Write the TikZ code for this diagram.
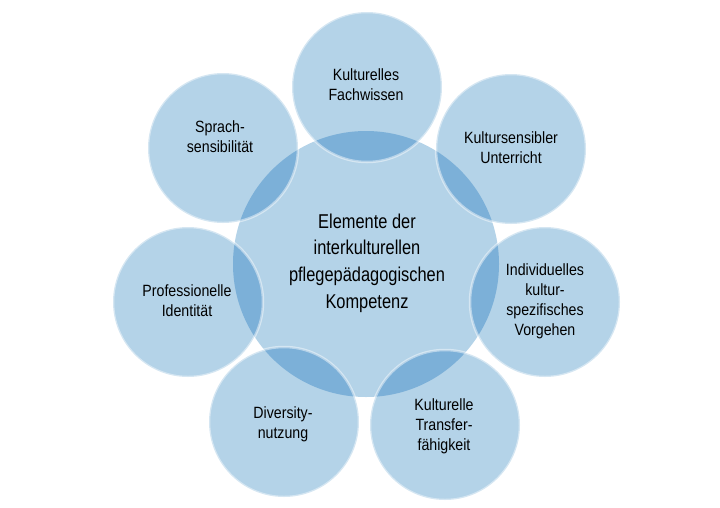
\documentclass[tikz,border=0pt]{standalone}
\usepackage{fontspec}
\setmainfont{Liberation Sans}[FakeStretch=0.87]
\newfontfamily\centrefont{Liberation Sans}[FakeStretch=0.82]
\definecolor{lightblue}{RGB}{180,211,232}
\definecolor{darkblue}{RGB}{124,176,216}
\begin{document}
\begin{tikzpicture}[x=1pt,y=-1pt,
  outer/.style={circle,fill=lightblue,minimum size=150pt,inner sep=0pt},
  centre/.style={circle,fill=lightblue,minimum size=266pt,inner sep=0pt},
  lbl/.style={align=center,text=black,font=\fontsize{16.3}{20}\selectfont},
  clbl/.style={align=center,text=black,font=\centrefont\fontsize{20}{26.7}\selectfont},
  rim/.style={draw=white,draw opacity=0.45,line width=2.5pt}]
\path[use as bounding box] (0,0) rectangle (720,507);
% circles
\node[centre] (c) at (366,264) {};
\node[outer] (a1) at (367,87) {};
\node[outer] (a2) at (511,149) {};
\node[outer] (a3) at (545,302) {};
\node[outer] (a4) at (445,425) {};
\node[outer] (a5) at (284,422) {};
\node[outer] (a6) at (188,302) {};
\node[outer] (a7) at (223,148) {};
% overlaps
\begin{scope}
  \clip (c.center) circle[radius=133pt];
  \foreach \n in {a1,a2,a3,a4,a5,a6,a7}
    \fill[darkblue] (\n.center) circle[radius=75pt];
\end{scope}
% rims of the outer circles
\foreach \n in {a1,a2,a3,a4,a5,a6,a7}
  \draw[rim] (\n.center) circle[radius=75pt];
% texts
\node[clbl] (tc) at (367,263) {Elemente der\\interkulturellen\\pflegepädagogischen\\Kompetenz};
\node[lbl] (t1) at (366,85) {Kulturelles\\Fachwissen};
\node[lbl] (t2) at (511,148) {Kultursensibler\\Unterricht};
\node[lbl] (t3) at (545,301) {Individuelles\\kultur-\\spezifisches\\Vorgehen};
\node[lbl] (t4) at (444,426) {Kulturelle\\Transfer-\\fähigkeit};
\node[lbl] (t5) at (283,424) {Diversity-\\nutzung};
\node[lbl] (t6) at (187,301) {Professionelle\\Identität};
\node[lbl] (t7) at (220,137) {Sprach-\\sensibilität};
\end{tikzpicture}
\end{document}
